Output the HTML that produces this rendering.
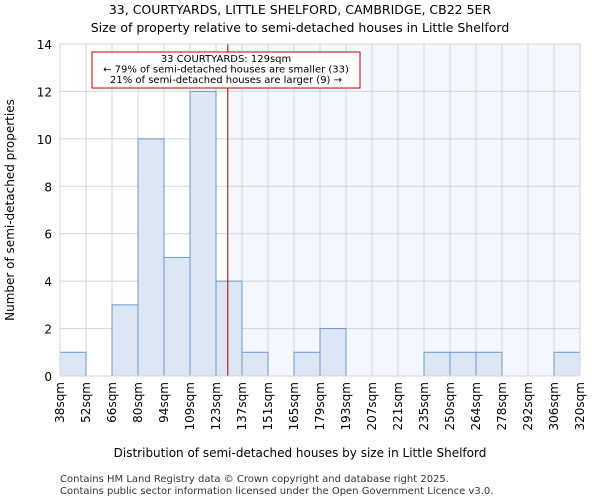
<!DOCTYPE html>
<html><head><meta charset="utf-8"><style>
body{margin:0;background:#fff;font-family:"DejaVu Sans","Liberation Sans",sans-serif}
</style></head><body>
<svg width="600" height="500" xmlns="http://www.w3.org/2000/svg" font-family="DejaVu Sans, Liberation Sans, sans-serif">
<text x="300" y="14" text-anchor="middle" font-size="12.5">33, COURTYARDS, LITTLE SHELFORD, CAMBRIDGE, CB22 5ER</text>
<text x="300" y="32" text-anchor="middle" font-size="12.5">Size of property relative to semi-detached houses in Little Shelford</text>
<g id="plot"></g>
<text x="300" y="457" text-anchor="middle" font-size="12">Distribution of semi-detached houses by size in Little Shelford</text>
<text transform="translate(14,210) rotate(-90)" text-anchor="middle" font-size="12">Number of semi-detached properties</text>
<text x="60" y="482" font-size="10" fill="#333">Contains HM Land Registry data © Crown copyright and database right 2025.</text>
<text x="60" y="494" font-size="10" fill="#333">Contains public sector information licensed under the Open Government Licence v3.0.</text>
</svg>
<script>
const binEdges=[38,52,66,80,94,109,123,137,151,165,179,193,207,221,235,250,264,278,292,306,320];
const counts=[1,0,3,10,5,12,4,1,0,1,2,0,0,0,1,1,1,0,0,1];
const yTicks=[0,2,4,6,8,10,12,14];
const propertySize=129;
const NS="http://www.w3.org/2000/svg";
const L=60,R=580,T=44,B=376,nb=counts.length,yMax=14;
const xi=i=>L+(R-L)*i/nb;
const xv=v=>L+(R-L)*(v-binEdges[0])/(binEdges[nb]-binEdges[0]);
const y=v=>B-(B-T)*v/yMax;
const g=document.getElementById('plot');
function mk(t,a){const e=document.createElementNS(NS,t);for(const k in a)e.setAttribute(k,a[k]);g.appendChild(e);return e;}
const px=xv(propertySize);
let e=mk('rect',{x:px,y:T,width:R-px,height:B-T,fill:'#f5f7fe'});


for(let i=0;i<=nb;i++){e=mk('line',{x1:xi(i),x2:xi(i),y1:T,y2:B,stroke:'#d4d4d4'});

}
yTicks.forEach(t=>{e=mk('line',{x1:L,x2:R,y1:y(t),y2:y(t),stroke:'#d4d4d4'});


e=mk('text',{x:L-8,y:y(t)+5,'text-anchor':'end','font-size':'12'});e.textContent=t;

});
counts.forEach((c,i)=>{if(!c)return;e=mk('rect',{x:xi(i),y:y(c),width:xi(i+1)-xi(i),height:B-y(c),fill:'#dce6f5',stroke:'#6e95cc','stroke-width':1});

});
binEdges.forEach((b,i)=>{e=mk('text',{transform:`translate(${xi(i)+4},382) rotate(-90)`,'text-anchor':'end','font-size':'12'});e.textContent=b+'sqm';

});
e=mk('line',{x1:px,x2:px,y1:T,y2:B,stroke:'#a00000','stroke-width':1});


e=mk('rect',{x:92,y:52,width:268,height:36,fill:'#fff',stroke:'#c00000','stroke-width':1});


['33 COURTYARDS: 129sqm','← 79% of semi-detached houses are smaller (33)','21% of semi-detached houses are larger (9) →'].forEach((s,k)=>{
e=mk('text',{x:226,y:62+k*10.5,'text-anchor':'middle','font-size':'10'});e.textContent=s;

});
e=mk('rect',{x:L,y:T,width:R-L,height:B-T,fill:'none',stroke:'#d4d4d4'});


</script>
</body></html>
